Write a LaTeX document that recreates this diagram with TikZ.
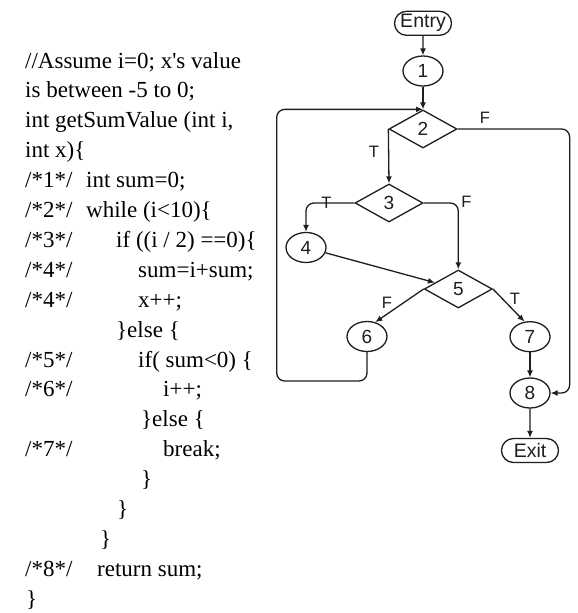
\documentclass[tikz,border=0pt]{standalone}
\usepackage{fontspec}
\setmainfont{Liberation Serif}
\newfontfamily\flowfont{Liberation Sans}
\usetikzlibrary{arrows.meta,shapes.geometric,shapes.misc}
\definecolor{ink}{HTML}{1e1e1e}
\begin{document}
\begin{tikzpicture}[x=1pt,y=-1pt,
  code/.style={anchor=base west, inner sep=0pt, font=\fontsize{23}{25}\selectfont, text=black},
  term/.style={draw=ink, line width=1.3pt, rounded rectangle, minimum width=59pt, minimum height=24pt, inner sep=1pt, text=ink, font=\flowfont\fontsize{19.5}{21}\selectfont},
  circ/.style={draw=ink, line width=1.3pt, ellipse, minimum width=40pt, minimum height=30pt, inner sep=0pt, text=ink, font=\flowfont\fontsize{19}{21}\selectfont},
  dia/.style={draw=ink, line width=1.3pt, diamond, minimum width=68pt, minimum height=38pt, inner sep=0pt, text=ink, font=\flowfont\fontsize{19}{21}\selectfont},
  lab/.style={inner sep=0pt, text=ink, font=\flowfont\fontsize{16.5}{18}\selectfont},
  arr/.style={draw=ink, line width=1.3pt, -{Latex[length=7pt,width=6pt]}},
]
\useasboundingbox[fill=white] (0,0) rectangle (578,613);

% ---- code listing ----
\node[code] (t0) at (25,68) {//Assume i=0; x\textquotesingle s value};
\node[code] (t1) at (25,97.9) {is between -5 to 0;};
\node[code] (t2) at (25,127.8) {int getSumValue (int i,};
\node[code] (t3) at (25,157.7) {int x)\{};
\node[code] (l1) at (25,187.6) {/*1*/};
\node[code] (s1) at (86,187.6) {int sum=0;};
\node[code] (l2) at (25,217.5) {/*2*/};
\node[code] (s2) at (86,217.5) {while (i<10)\{};
\node[code] (l3) at (25,247.4) {/*3*/};
\node[code] (s3) at (116,247.4) {if ((i / 2) ==0)\{};
\node[code] (l4) at (25,277.3) {/*4*/};
\node[code] (s4) at (138,277.3) {sum=i+sum;};
\node[code] (l4b) at (25,307.2) {/*4*/};
\node[code] (s4b) at (138,307.2) {x++;};
\node[code] (e1) at (116,337.1) {\}else \{};
\node[code] (l5) at (25,367) {/*5*/};
\node[code] (s5) at (138,367) {if( sum<0) \{};
\node[code] (l6) at (25,396.9) {/*6*/};
\node[code] (s6) at (163,396.9) {i++;};
\node[code] (e2) at (141,426.8) {\}else \{};
\node[code] (l7) at (25,456.7) {/*7*/};
\node[code] (s7) at (163,456.7) {break;};
\node[code] (b1) at (141,486.6) {\}};
\node[code] (b2) at (117,516.5) {\}};
\node[code] (b3) at (100,546.4) {\}};
\node[code] (l8) at (25,576.3) {/*8*/};
\node[code] (s8) at (97,576.3) {return sum;};
\node[code] (b4) at (26,606.2) {\}};

% ---- flow graph ----
\node[term] (entry) at (423,23.3) {Entry};
\node[circ] (n1) at (423,71) {1};
\node[dia]  (d2) at (423,129) {2};
\node[dia]  (d3) at (389,203) {3};
\node[circ] (n4) at (306,247.5) {4};
\node[dia]  (d5) at (458.3,289) {5};
\node[circ] (n6) at (367,336.5) {6};
\node[circ] (n7) at (530,336.7) {7};
\node[circ] (n8) at (530,393) {8};
\node[term] (exit) at (530,450.5) {Exit};
\coordinate (lc) at (276.7,381);

\draw[arr] (entry) -- (n1);
\draw[arr] (n1) -- (d2);
\draw[arr] (d2.west) -- (d3.north);
\draw[arr, rounded corners=8pt] (d2.east) -| ([xshift=19pt]n8.east) -- (n8.east);
\draw[arr, rounded corners=8pt] (d3.west) -| (n4.north);
\draw[arr, rounded corners=8pt] (d3.east) -| (d5.north);
\draw[arr] (n4) -- (d5);
\draw[arr] (d5.west) -- (n6.60);
\draw[arr] (d5.east) -- (n7.110);
\draw[arr] (n7) -- (n8);
\draw[arr] (n8) -- (exit);
\draw[arr, rounded corners=8pt] (n6.south) |- (lc) |- (d2.north);

\node[lab] (lT2) at (374,152) {T};
\node[lab] (lF2) at (485,117.5) {F};
\node[lab] (lT3) at (326.5,202.5) {T};
\node[lab] (lF3) at (466.5,201.5) {F};
\node[lab] (lF5) at (387,303) {F};
\node[lab] (lT5) at (515,298.5) {T};
\end{tikzpicture}
\end{document}
